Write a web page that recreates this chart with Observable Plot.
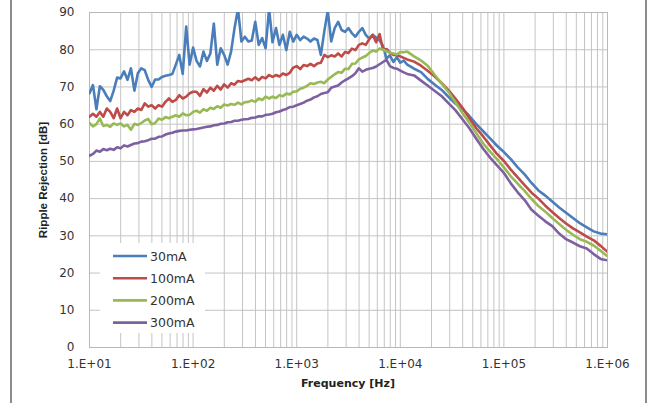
<!DOCTYPE html>
<html><head><meta charset="utf-8">
<script src="https://cdn.jsdelivr.net/npm/d3@7"></script>
<script src="https://cdn.jsdelivr.net/npm/@observablehq/plot@0.6"></script>
<style>
html,body{margin:0;padding:0;background:#fff;}
#wrap{position:relative;width:649px;height:403px;overflow:hidden;}
#frame{position:absolute;left:10px;top:0;height:403px;border-left:2px solid #8c8c8c;border-right:2px solid #8c8c8c;pointer-events:none;box-sizing:border-box;width:637px;}
</style></head><body><div id="wrap"><div id="frame"></div></div>
<script>
// Frequency points [Hz]
const freq = [
 10, 10.8, 11.66, 12.59, 13.59, 14.68, 15.85, 17.11, 18.48, 19.95, 21.54, 23.26, 25.12, 27.12, 29.29, 31.62, 34.15, 36.87, 39.81, 42.99, 46.42, 50.12, 54.12, 58.43, 63.1, 68.13, 73.56, 79.43, 85.77, 92.61,
 100, 108, 116.6, 125.9, 135.9, 146.8, 158.5, 171.1, 184.8, 199.5, 215.4, 232.6, 251.2, 271.2, 292.9, 316.2, 341.5, 368.7, 398.1, 429.9, 464.2, 501.2, 541.2, 584.3, 631, 681.3, 735.6, 794.3, 857.7, 926.1,
 1000, 1080, 1166, 1259, 1359, 1468, 1585, 1711, 1848, 1995, 2154, 2326, 2512, 2712, 2929, 3162, 3415, 3687, 3981, 4299, 4642, 5012, 5412, 5843, 6310, 6813, 7356, 7943, 8577, 9261,
 10000, 10800,
 11660, 13590, 15850, 18480, 21540, 25120, 29290, 34150, 39810, 46420, 54120, 63100, 73560, 85770,
 100000, 116600, 135900, 158500, 184800, 215400, 251200, 292900, 341500, 398100, 464200, 541200, 631000, 735600, 857700, 1000000
];
// Ripple rejection [dB] per load current
const ma30 = [
 68.3, 70.5, 64, 70.2, 69.2, 67.5, 66.2, 69, 72.5, 72.3,
 74.2, 71.9, 75, 69, 73.7, 75, 74.5, 71.9, 70, 72,
 72, 72.7, 73, 73.2, 73.5, 76, 78.6, 73.5, 86.2, 76,
 80.6, 77, 75.5, 79.5, 77, 79, 87, 76, 80.4, 78.6,
 76, 79.5, 85.8, 91, 82.2, 83.5, 82.2, 82.5, 87.5, 81.3,
 83.1, 80.4, 91, 82, 85.8, 81.3, 84, 79.9, 84.8, 82.2,
 84, 82.6, 83.5, 83, 82.2, 83, 82.6, 78.6, 85, 90.5,
 82.2, 85.8, 87.5, 85.3, 84.8, 85.8, 84.4, 83.5, 84.8, 85.8,
 84, 83, 84, 83.3, 82.5, 81, 77.6, 78.5, 76.7, 78,
 76.5, 77.1,
 76, 74.9, 74, 72.1, 70.6, 69.2, 67.3, 65.5, 64.1, 62.2, 60, 58.1, 56.2, 54.2,
 52.5, 50.6, 48.4, 46.5, 44.2, 42.2, 40.8, 39.2, 37.6, 36.2, 34.8, 33.4, 32.3, 31.2, 30.6, 30.4
];
const ma100 = [
 62, 62.8, 62, 63.3, 62, 64.2, 63.3, 61.6, 64.2, 61.6,
 63.3, 62.4, 63.8, 63.3, 64.2, 63.8, 65.6, 64.7, 65.1, 64.2,
 65.1, 64.7, 66, 66.9, 66, 66.5, 67.8, 66.9, 67.4, 68.3,
 68.7, 68.7, 67.6, 69.4, 68.5, 69.8, 69, 70.3, 69.3, 70.7,
 69.8, 71, 70.6, 71.6, 71.4, 71.8, 72.2, 71.8, 72.6, 71.8,
 72.7, 72.3, 73.2, 72.7, 73.2, 72.8, 73.6, 73.2, 73.8, 75.2,
 75.6, 74.8, 75.9, 75.6, 76.2, 75.6, 76.3, 76.5, 78.6, 78,
 78.5, 78.2, 79, 78.2, 79.4, 79.1, 80.3, 79.9, 81.3, 81.7,
 81.3, 82.8, 84, 82, 84.2, 80, 80.2, 79.2, 78.6, 78.6,
 78.2, 77.8,
 77.4, 76.8, 75.7, 74.3, 72.8, 71, 69.1, 66.8, 64.4, 61.6, 58.9, 56.7, 54.3, 52,
 50.1, 47.8, 45.7, 43.6, 41.6, 40, 38.1, 36.4, 34.8, 33.3, 32, 30.9, 29.8, 28.8, 27.3, 25.7
];
const ma200 = [
 60.3, 59.4, 60, 61.5, 59.5, 59.8, 59.3, 60.2, 59.8, 60.2,
 59.4, 59.8, 58.5, 60.1, 59.8, 60.3, 61, 61.4, 60, 60.3,
 61.5, 61.2, 61.9, 61.6, 62, 62.4, 62, 62.9, 62.4, 62.5,
 63.3, 63.6, 63.1, 64, 63.6, 64.4, 64.1, 64.8, 64.4, 65.3,
 65, 65.4, 65.2, 65.8, 65.3, 65.9, 66, 66.4, 66, 66.9,
 66.5, 67.4, 66.9, 67.4, 67, 67.8, 67.5, 68.2, 68, 68.7,
 68.8, 69.5, 69.8, 70.3, 71, 70.8, 71.2, 71.4, 71, 72,
 72.7, 73.4, 74, 73.8, 74.9, 74.8, 76.2, 76.3, 77.4, 77.9,
 78.3, 79.1, 79.8, 79.5, 80.3, 80, 79.6, 79.2, 79, 78.7,
 79.4, 79.3,
 79.5, 78.2, 77.1, 75.6, 73.2, 70.9, 68.6, 65.8, 63, 60.4, 57.6, 54.8, 52.6, 50.6,
 48.4, 46, 44, 42.1, 39.9, 38, 36.5, 34.8, 33.2, 31.6, 30.3, 29.1, 28.4, 27.4, 26, 24.5
];
const ma300 = [
 51.5, 52, 52.9, 52.6, 53.3, 53, 53.4, 53.1, 53.8, 53.5,
 54.3, 54, 54.4, 54.8, 54.9, 55.3, 55.4, 55.7, 56.1, 56.1,
 56.6, 56.7, 57.2, 57.5, 57.7, 58, 58.2, 58.3, 58.3, 58.5,
 58.6, 58.7, 58.9, 59.1, 59.3, 59.4, 59.7, 59.8, 60.1, 60.2,
 60.5, 60.6, 60.9, 60.9, 61.2, 61.3, 61.4, 61.7, 61.8, 62.1,
 62.1, 62.5, 62.6, 62.8, 63.2, 63.4, 63.8, 64.1, 64.6, 64.7,
 65.1, 65.4, 65.8, 66.3, 66.6, 67.2, 67.5, 68.1, 68.4, 68.6,
 69.8, 70.1, 70.4, 71.2, 71.8, 72.3, 72.9, 73.7, 75, 74.1,
 74.6, 74.9, 75.1, 75.5, 76.1, 76.7, 77.3, 75.6, 75.1, 74.9,
 74.4, 73.9,
 73.5, 73.1, 71.7, 70.3, 68.9, 67.5, 65.6, 63.7, 61.3, 58.9, 56.1, 53.4, 51, 48.9,
 46.9, 44.1, 41.7, 39.6, 37, 35.4, 33.9, 32.6, 30.6, 29.1, 28.2, 27.2, 26.6, 25.1, 23.8, 23.4
];
const seriesNames = ["30mA", "100mA", "200mA", "300mA"];
const seriesValues = [ma30, ma100, ma200, ma300];
const seriesColors = ["#4A7EBB", "#BE4B48", "#98B954", "#7D60A0"];
const xTicks = [10, 100, 1000, 10000, 100000, 1000000];
const xTickLabels = ["1.E+01", "1.E+02", "1.E+03", "1.E+04", "1.E+05", "1.E+06"];
const yTicks = [0, 10, 20, 30, 40, 50, 60, 70, 80, 90];
const gridDecades = [10, 100, 1000, 10000, 100000];
const gridMultipliers = [1, 2, 3, 4, 5, 6, 7, 8, 9];
const xGrid = gridDecades.flatMap(d => gridMultipliers.map(m => m * d)).concat([1000000]);

const rows = seriesNames.flatMap((s, k) => freq.map((f, i) => ({s, f, v: seriesValues[k][i]})));

const gridColor = "#c4c4c4";
const chart = Plot.plot({
  width: 649, height: 403,
  marginLeft: 89, marginRight: 42, marginTop: 12, marginBottom: 56,
  style: {fontFamily: "DejaVu Sans", fontSize: "12px", color: "#333", background: "transparent"},
  x: {type: "log", domain: [10, 1000000]},
  y: {domain: [0, 90]},
  color: {domain: seriesNames, range: seriesColors},
  marks: [
    Plot.ruleX(xGrid, {stroke: gridColor, strokeWidth: 1}),
    Plot.ruleY(yTicks, {stroke: gridColor, strokeWidth: 1}),
    Plot.frame({stroke: "#b8b8b8"}),
    Plot.line(rows, {x: "f", y: "v", z: "s", stroke: "s", strokeWidth: 2.6, strokeLinejoin: "round", clip: true}),
    Plot.axisX(xTicks, {tickSize: 0, tickPadding: 12, tickFormat: d => xTickLabels[xTicks.indexOf(d)], label: null, fill: "#333"}),
    Plot.axisY(yTicks, {tickSize: 0, tickPadding: 15, label: null, fill: "#333"})
  ]
});
document.getElementById("wrap").appendChild(chart);

const svg = d3.select(chart);
svg.append("text")
  .attr("x", 348).attr("y", 387)
  .attr("text-anchor", "middle")
  .style("font-family", "DejaVu Sans").style("font-weight", "bold").style("font-size", "11px")
  .style("fill", "#222")
  .text("Frequency [Hz]");
svg.append("text")
  .attr("transform", "translate(47,180) rotate(-90)")
  .attr("text-anchor", "middle")
  .style("font-family", "'Liberation Sans Narrow', 'Liberation Sans', sans-serif").style("font-weight", "bold").style("font-size", "11.5px")
  .style("fill", "#222")
  .text("Ripple Rejection [dB]");

const lg = svg.append("g");
lg.append("rect").attr("x", 100).attr("y", 243).attr("width", 105).attr("height", 90)
  .style("fill", "#ffffff").style("stroke", "none");
seriesNames.forEach((name, i) => {
  const yy = 256 + i * 22.2;
  lg.append("line").attr("x1", 113).attr("x2", 147).attr("y1", yy).attr("y2", yy)
    .style("stroke", seriesColors[i]).style("stroke-width", 2.6);
  lg.append("text").attr("x", 150).attr("y", yy).attr("dy", "0.36em")
    .attr("text-anchor", "start")
    .style("font-family", "DejaVu Sans").style("font-size", "12.5px").style("fill", "#333")
    .text(name);
});
</script>
</body></html>
